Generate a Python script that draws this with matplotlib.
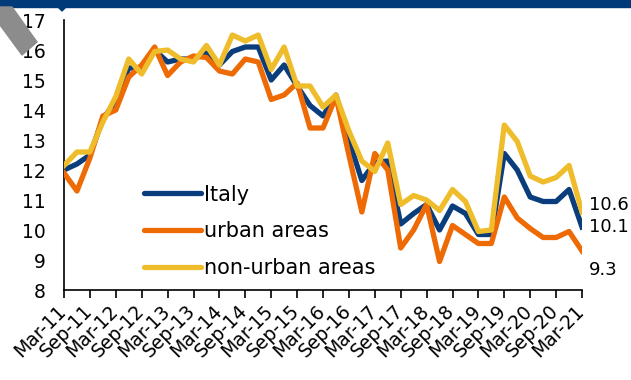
import matplotlib.pyplot as plt
import matplotlib.transforms as mtransforms
from matplotlib.patches import Polygon, Rectangle
import numpy as np

# quarterly observations, Mar-11 .. Mar-21
italy = [12.0, 12.2, 12.5, 13.7, 14.3, 15.4, 15.4, 16.0, 15.6, 15.7, 15.7,
         15.9, 15.5, 15.95, 16.1, 16.1, 15.0, 15.5, 14.8, 14.15, 13.8,
         14.5, 13.0, 11.65, 12.25, 12.3, 10.2, 10.55, 10.85, 10.0, 10.8,
         10.55, 9.85, 9.85, 12.55, 12.0, 11.1, 10.95, 10.95, 11.35, 10.1]
urban = [11.9, 11.3, 12.4, 13.8, 14.0, 15.1, 15.5, 16.1, 15.15, 15.6, 15.8,
         15.75, 15.3, 15.2, 15.7, 15.6, 14.35, 14.5, 14.9, 13.4, 13.4,
         14.45, 12.5, 10.6, 12.55, 12.0, 9.4, 10.0, 10.85, 8.95, 10.15,
         9.85, 9.55, 9.55, 11.1, 10.4, 10.05, 9.75, 9.75, 9.95, 9.3]
nonurban = [12.15, 12.6, 12.6, 13.6, 14.45, 15.7, 15.2, 15.95, 16.0, 15.7,
            15.6, 16.15, 15.5, 16.5, 16.3, 16.5, 15.35, 16.1, 14.8, 14.8,
            14.1, 14.5, 13.3, 12.3, 11.95, 12.9, 10.85, 11.15, 11.0, 10.65,
            11.35, 10.95, 9.95, 10.0, 13.5, 12.95, 11.8, 11.6, 11.75, 12.15,
            10.6]
tick_labels = ['Mar-11', 'Sep-11', 'Mar-12', 'Sep-12', 'Mar-13', 'Sep-13',
               'Mar-14', 'Sep-14', 'Mar-15', 'Sep-15', 'Mar-16', 'Sep-16',
               'Mar-17', 'Sep-17', 'Mar-18', 'Sep-18', 'Mar-19', 'Sep-19',
               'Mar-20', 'Sep-20', 'Mar-21']

BLUE = '#0a3d7c'
ORANGE = '#ee6a05'
YELLOW = '#efbd2b'

fig = plt.figure(figsize=(6.31, 3.80), dpi=100)
ax = fig.add_axes([64 / 631, 1 - 290 / 380, 518 / 631, 270 / 380])

x = np.arange(len(italy))
lw = 3.8
ax.plot(x, italy, color=BLUE, lw=lw, label='Italy', zorder=2)
ax.plot(x, urban, color=ORANGE, lw=lw, label='urban areas', zorder=3)
ax.plot(x, nonurban, color=YELLOW, lw=lw, label='non-urban areas', zorder=4)

ax.set_xlim(0, len(italy) - 1)
ax.set_ylim(8, 17)
ax.set_yticks(range(8, 18))
ax.tick_params(axis='y', length=0, pad=13, labelsize=13.5)
ax.set_xticks(x[::2])
ax.set_xticklabels(tick_labels, rotation=45, ha='right', va='top', fontsize=13.5)
ax.tick_params(axis='x', length=6, width=1.2, direction='out', pad=2)
shift = mtransforms.ScaledTranslation(6 / 100, 0, fig.dpi_scale_trans)
for lab in ax.get_xticklabels():
    lab.set_transform(lab.get_transform() + shift)

for s in ['top', 'right']:
    ax.spines[s].set_visible(False)
for s in ['left', 'bottom']:
    ax.spines[s].set_linewidth(1.2)

# end-of-series values
ax.annotate('10.6', (x[-1], nonurban[-1]), xytext=(5, 5), textcoords='offset points',
            fontsize=13, va='center', ha='left', annotation_clip=False)
ax.annotate('10.1', (x[-1], italy[-1]), xytext=(5, 0), textcoords='offset points',
            fontsize=13, va='center', ha='left', annotation_clip=False)
ax.annotate('9.3', (x[-1], urban[-1]), xytext=(5, -14), textcoords='offset points',
            fontsize=13, va='center', ha='left', annotation_clip=False)

leg = ax.legend(loc='upper left', bbox_to_anchor=(0.155, 0.39), frameon=False,
                fontsize=15, handlelength=2.7, handletextpad=0.15,
                labelspacing=0.8, borderpad=0, borderaxespad=0)
for h in leg.get_lines():
    h.set_linewidth(lw)
    h.set_solid_capstyle('round')

# header strip and corner marks
fig.patches.append(Rectangle((0, 1 - 7 / 380), 1, 7 / 380, transform=fig.transFigure,
                             color='#003a78', zorder=0))
fig.patches.append(Polygon([(58 / 631, 1 - 7 / 380), (66 / 631, 1 - 7 / 380),
                            (62 / 631, 1 - 11 / 380)], closed=True,
                           transform=fig.transFigure, color='#003a78'))
fig.patches.append(Polygon([(0, 1 - 7 / 380), (12 / 631, 1 - 7 / 380),
                            (37 / 631, 1 - 42 / 380), (22 / 631, 1 - 55 / 380),
                            (0, 1 - 25 / 380)], closed=True,
                           transform=fig.transFigure, color='#8c8c8c', zorder=0))

fig.savefig('out.png', dpi=100)
